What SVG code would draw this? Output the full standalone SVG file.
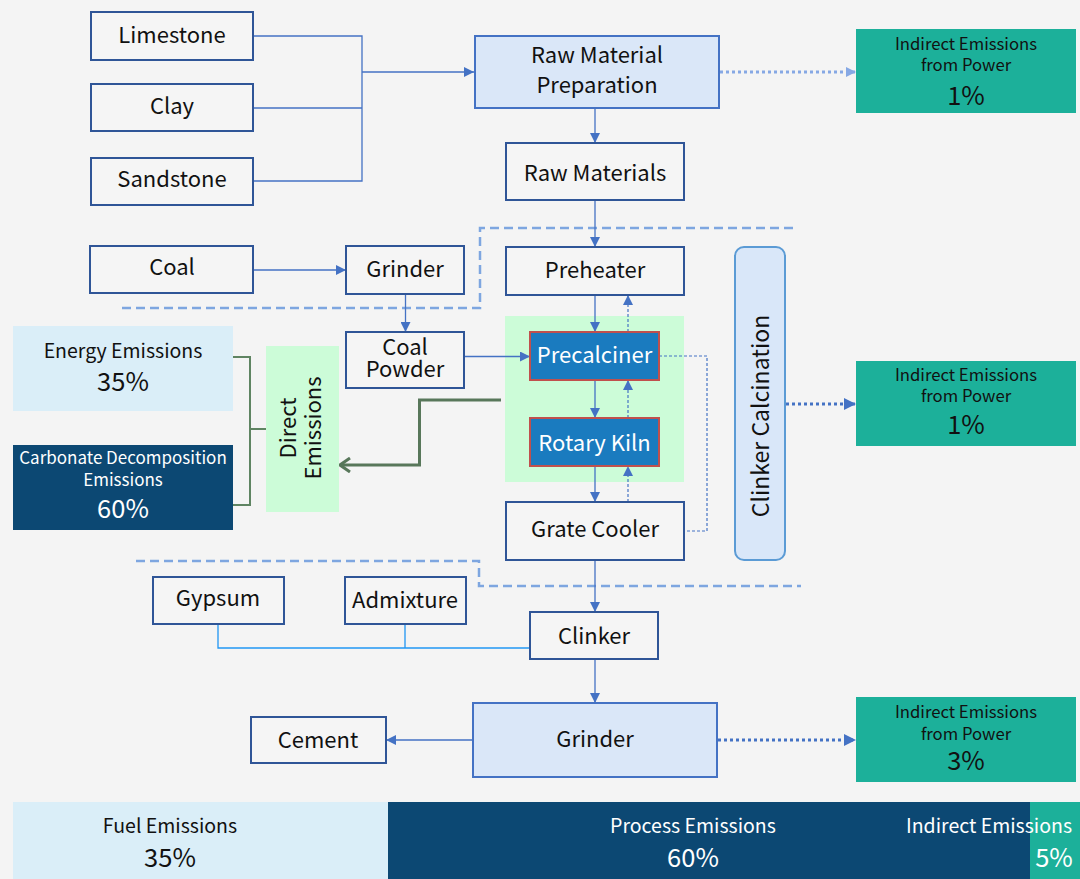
<svg xmlns="http://www.w3.org/2000/svg" width="1080" height="879" viewBox="0 0 1080 879">
<defs>
<style>
text{font-family:"Noto Sans CJK SC","Noto Sans",sans-serif;fill:#111;}
.c{text-anchor:middle;}
.n{font-size:22px;}
.s{font-size:16.7px;}
.p{font-size:25.5px;}
.m{font-size:19.5px;}
.w{fill:#fff;}
.box{fill:#f5f5f5;stroke:#2f5597;stroke-width:2;}
.lbox{fill:#dae7f8;stroke:#4472c4;stroke-width:2;}
.kiln{fill:#1a7bbf;stroke:#c0504d;stroke-width:2;}
.teal{fill:#1cb09a;}
.ln{fill:none;stroke:#4472c4;stroke-width:1.3;}
.up{fill:none;stroke:#4472c4;stroke-width:1.2;stroke-dasharray:3,2;}
.dot{fill:none;stroke:#4472c4;stroke-width:3;stroke-dasharray:3,3;}
.zone{fill:none;stroke:#7ea6e0;stroke-width:2.5;stroke-dasharray:9,5;}
</style>
<marker id="a" markerUnits="userSpaceOnUse" markerWidth="10" markerHeight="10" refX="10" refY="5" orient="auto"><path d="M0,0L10,5L0,10z" fill="#4472c4"/></marker>
<marker id="al" markerUnits="userSpaceOnUse" markerWidth="10" markerHeight="10" refX="10" refY="5" orient="auto"><path d="M0,0L10,5L0,10z" fill="#86a8e4"/></marker>
<marker id="ad" markerUnits="userSpaceOnUse" markerWidth="12" markerHeight="12" refX="12" refY="6" orient="auto"><path d="M0,0L12,6L0,12z" fill="#4472c4"/></marker>
<marker id="g" markerUnits="userSpaceOnUse" markerWidth="12" markerHeight="16" refX="11" refY="8" orient="auto"><path d="M1,1L11,8L1,15" fill="none" stroke="#58775a" stroke-width="3"/></marker>
</defs>
<rect width="1080" height="879" fill="#f4f4f4"/>

<g id="zones">
<path class="zone" d="M122,308H480V228H797"/>
<path class="zone" d="M136,561H479V586H801"/>
<rect x="505" y="316" width="179" height="166" fill="#ccfcd8"/>
</g>

<g id="connectors">
<path class="ln" d="M253,36H362V181H253M253,108H362"/>
<path class="ln" d="M362,72H474" marker-end="url(#a)"/>
<path class="ln" d="M595,108V143" marker-end="url(#a)"/>
<path class="ln" d="M595,200V247" marker-end="url(#a)"/>
<path class="ln" d="M253,270H346" marker-end="url(#a)"/>
<path class="ln" d="M405.5,294V332" marker-end="url(#a)"/>
<path class="ln" d="M464,356.5H530" marker-end="url(#a)"/>
<path class="ln" d="M595,295V332" marker-end="url(#a)"/>
<path class="ln" d="M595,380V418" marker-end="url(#a)"/>
<path class="ln" d="M595,466V502" marker-end="url(#a)"/>
<path class="up" d="M628,332V295" marker-end="url(#a)"/>
<path class="up" d="M628,418V380" marker-end="url(#a)"/>
<path class="up" d="M628,502V466" marker-end="url(#a)"/>
<path class="up" d="M659,356H707V531H684"/>
<path class="ln" d="M595,560V612" marker-end="url(#a)"/>
<path d="M218,624V648H530M405,624V648" fill="none" stroke="#2196f3" stroke-width="1.3"/>
<path class="ln" d="M595,659V703" marker-end="url(#a)"/>
<path class="ln" d="M473,740H386" marker-end="url(#a)"/>
<path d="M720,72H856" fill="none" stroke="#86a8e4" stroke-width="3" stroke-dasharray="3,3" marker-end="url(#al)"/>
<path class="dot" d="M786,404H856" marker-end="url(#ad)"/>
<path class="dot" d="M718,740H856" marker-end="url(#ad)"/>
<path d="M233,357H250V505H233M250,429H268" fill="none" stroke="#5f8462" stroke-width="2"/>
<path d="M501,400H419.5V465H340" fill="none" stroke="#58775a" stroke-width="3" marker-end="url(#g)"/>
</g>

<g id="limestone"><rect class="box" x="91" y="12" width="162" height="48"/><text class="c n" x="172" y="43">Limestone</text></g>
<g id="clay"><rect class="box" x="91" y="84" width="162" height="47"/><text class="c n" x="172" y="114">Clay</text></g>
<g id="sandstone"><rect class="box" x="91" y="158" width="162" height="47"/><text class="c n" x="172" y="187">Sandstone</text></g>
<g id="coal"><rect class="box" x="90" y="246" width="163" height="47"/><text class="c n" x="172" y="275">Coal</text></g>
<g id="grinder1"><rect class="box" x="346" y="246" width="118" height="48"/><text class="c n" x="405" y="277">Grinder</text></g>
<g id="coal-powder"><rect class="box" x="346" y="332" width="118" height="56"/><text class="c n" x="405" y="355">Coal</text><text class="c n" x="405" y="377">Powder</text></g>
<g id="raw-prep"><rect class="lbox" x="475" y="36" width="244" height="72"/><text class="c n" x="597" y="63">Raw Material</text><text class="c n" x="597" y="93">Preparation</text></g>
<g id="raw-materials"><rect class="box" x="506" y="143" width="178" height="57"/><text class="c n" x="595" y="181">Raw Materials</text></g>
<g id="preheater"><rect class="box" x="506" y="247" width="178" height="48"/><text class="c n" x="595" y="278">Preheater</text></g>
<g id="precalciner"><rect class="kiln" x="530" y="332" width="129" height="48"/><text class="c n w" x="594.5" y="363">Precalciner</text></g>
<g id="rotary-kiln"><rect class="kiln" x="530" y="418" width="129" height="48"/><text class="c n w" x="594.5" y="451">Rotary Kiln</text></g>
<g id="grate-cooler"><rect class="box" x="506" y="502" width="178" height="58"/><text class="c n" x="595" y="537">Grate Cooler</text></g>
<g id="clinker-calcination"><rect x="735" y="247" width="50" height="313" rx="9" fill="#d9e7f9" stroke="#5b9bd5" stroke-width="2"/><text class="c" style="font-size:23px" transform="translate(768.5,416) rotate(-90)">Clinker Calcination</text></g>
<g id="ind1"><rect class="teal" x="856" y="29" width="220" height="84"/><text class="c s" x="966" y="50">Indirect Emissions</text><text class="c s" x="966" y="71">from Power</text><text class="c p" x="966" y="105">1%</text></g>
<g id="ind2"><rect class="teal" x="856" y="361" width="220" height="85"/><text class="c s" x="966" y="381">Indirect Emissions</text><text class="c s" x="966" y="402">from Power</text><text class="c p" x="966" y="434">1%</text></g>
<g id="ind3"><rect class="teal" x="856" y="697" width="220" height="85"/><text class="c s" x="966" y="718">Indirect Emissions</text><text class="c s" x="966" y="740">from Power</text><text class="c p" x="966" y="770">3%</text></g>
<g id="energy"><rect x="13" y="326" width="220" height="85" fill="#daeef8"/><text class="c m" x="123" y="358">Energy Emissions</text><text class="c p" x="123" y="391">35%</text></g>
<g id="carbonate"><rect x="13" y="445" width="220" height="85" fill="#0c4873"/><text class="c w" style="font-size:17px" x="123" y="464">Carbonate Decomposition</text><text class="c w" style="font-size:17px" x="123" y="486">Emissions</text><text class="c p w" x="123" y="518">60%</text></g>
<g id="direct"><rect x="266" y="346" width="73" height="166" fill="#ccfcd8"/><text class="c n" transform="translate(295.5,428) rotate(-90)">Direct</text><text class="c n" transform="translate(321,428) rotate(-90)">Emissions</text></g>
<g id="gypsum"><rect class="box" x="153" y="577" width="131" height="47"/><text class="c n" x="218" y="606">Gypsum</text></g>
<g id="admixture"><rect class="box" x="345" y="577" width="121" height="47"/><text class="c n" x="405" y="608">Admixture</text></g>
<g id="clinker"><rect class="box" x="530" y="612" width="128" height="47"/><text class="c n" x="594" y="644">Clinker</text></g>
<g id="grinder2"><rect class="lbox" x="473" y="703" width="244" height="74"/><text class="c n" x="595" y="747">Grinder</text></g>
<g id="cement"><rect class="box" x="251" y="717" width="135" height="46"/><text class="c n" x="318" y="748">Cement</text></g>

<g id="bottom-bar">
<rect x="13" y="802" width="375" height="77" fill="#daeef8"/>
<rect x="388" y="802" width="642" height="77" fill="#0c4873"/>
<rect class="teal" x="1030" y="802" width="50" height="77"/>
<text class="c m" x="170" y="833">Fuel Emissions</text><text class="c p" x="170" y="867">35%</text>
<text class="c m w" x="693" y="833">Process Emissions</text><text class="c p w" x="693" y="867">60%</text>
<text class="c m w" x="989" y="833">Indirect Emissions</text><text class="c p w" x="1054" y="867">5%</text>
</g>
</svg>
